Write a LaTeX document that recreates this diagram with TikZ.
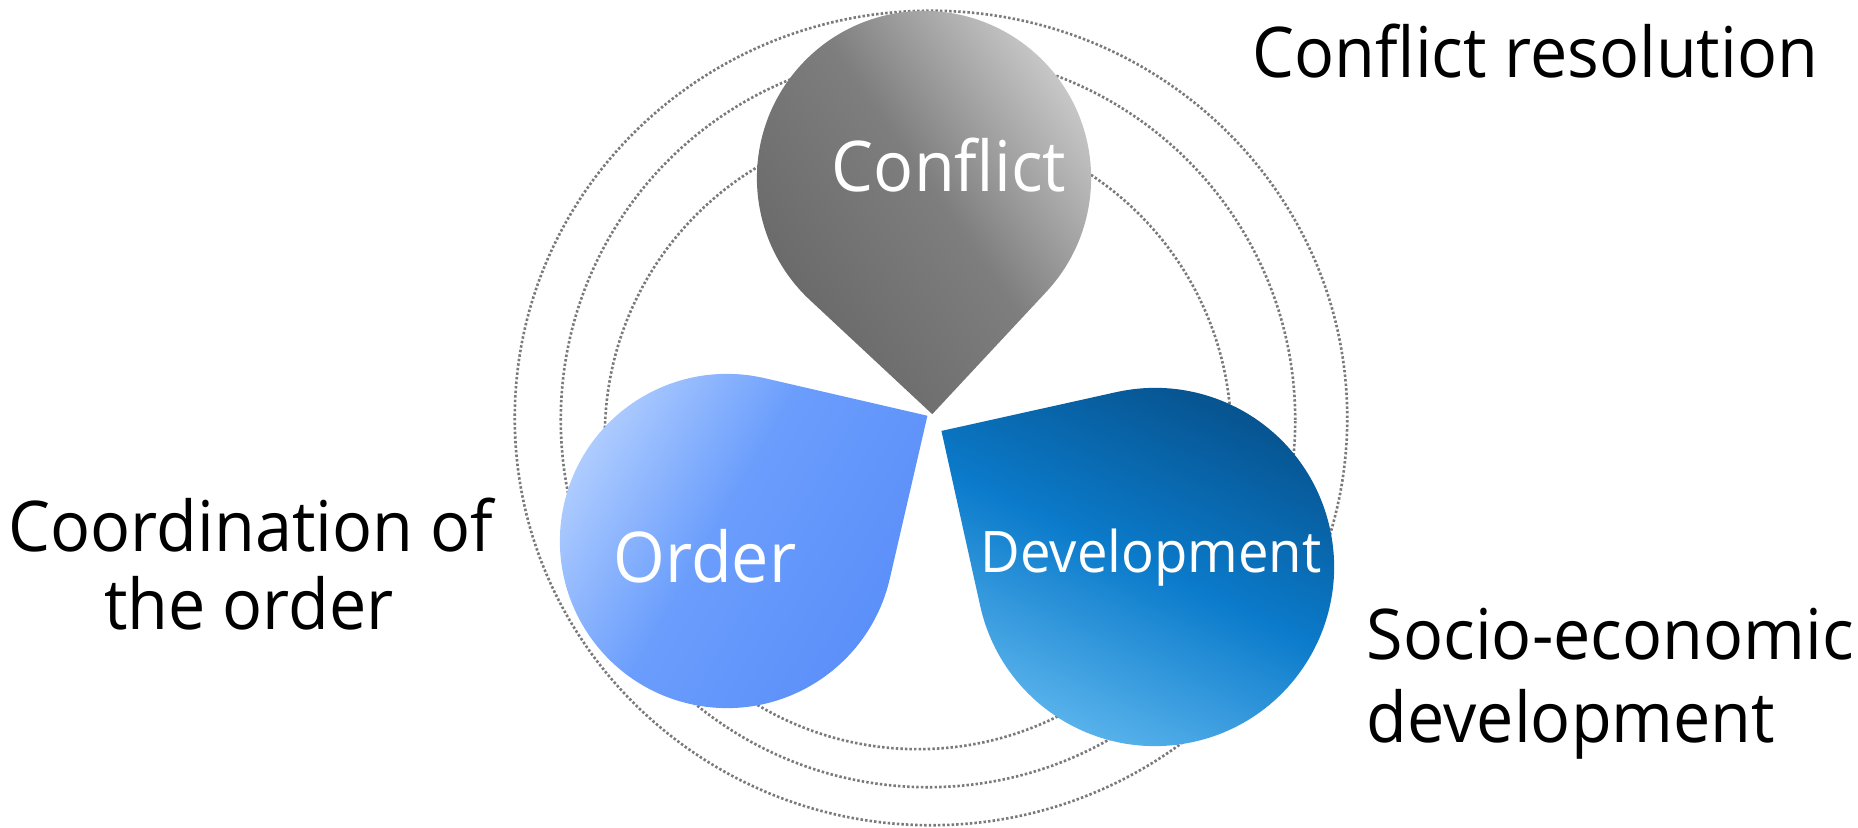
\documentclass[tikz,border=0pt]{standalone}
\usepackage{fontspec}
\setmainfont{Open Sans}[FakeStretch=0.95]
\usetikzlibrary{calc}
\definecolor{cfA}{HTML}{666666}
\definecolor{cfB}{HTML}{7E7E7E}
\definecolor{cfC}{HTML}{CDCDCD}
\definecolor{orA}{HTML}{B4D0FF}
\definecolor{orB}{HTML}{6A9DFC}
\definecolor{orC}{HTML}{5A8EF9}
\definecolor{dvA}{HTML}{62B9EF}
\definecolor{dvB}{HTML}{0B7BCB}
\definecolor{dvC}{HTML}{06508A}
\definecolor{ringgray}{HTML}{7A7A7A}
\pgfdeclarehorizontalshading{shConflict}{100bp}{color(0bp)=(cfA); color(25bp)=(cfA); color(52bp)=(cfB); color(75bp)=(cfC); color(100bp)=(cfC)}
\pgfdeclarehorizontalshading{shOrder}{100bp}{color(0bp)=(orA); color(25bp)=(orA); color(47bp)=(orB); color(75bp)=(orC); color(100bp)=(orC)}
\pgfdeclarehorizontalshading{shDev}{100bp}{color(0bp)=(dvA); color(25bp)=(dvA); color(50bp)=(dvB); color(75bp)=(dvC); color(100bp)=(dvC)}
\tikzset{
  ring/.style={draw=ringgray, line width=0.75pt, dash pattern=on 0.7pt off 0.6pt},
  lbl/.style={inner sep=0pt, font=\fontsize{19.9pt}{24pt}\selectfont, text=black},
  droplbl/.style={inner sep=0pt, font=\fontsize{19.9pt}{24pt}\selectfont, text=white},
  devlbl/.style={inner sep=0pt, font=\fontsize{16.3pt}{20pt}\selectfont, text=white}
}
\begin{document}
\begin{tikzpicture}[x=0.01cm, y=0.01cm]
\useasboundingbox (0,0) rectangle (1858,828);
% dotted rings
\coordinate (rO) at (931,410);
\coordinate (rM) at (928,408);
\coordinate (rI) at (918,392);
\draw[ring] (rO) ellipse [x radius=4.16cm, y radius=4.07cm];
\draw[ring] (rM) circle [radius=3.67cm];
\draw[ring] (rI) circle [radius=3.13cm];
% drop centres
\coordinate (cC) at (924,650);
\coordinate (cO) at (727,287);
\coordinate (cD) at (1155,261);
% Conflict drop
\path[shading=shConflict, shading angle=35]
  ($(cC)+(-88:2.362cm)$) -- ($(cC)+(-43:1.67cm)$)
  arc[start angle=-43, end angle=227, radius=1.67cm] -- cycle;
% Order drop
\path[shading=shOrder, shading angle=-30]
  ($(cO)+(32:2.362cm)$) -- ($(cO)+(77:1.67cm)$)
  arc[start angle=77, end angle=347, radius=1.67cm] -- cycle;
% Development drop
\path[shading=shDev, shading angle=65]
  ($(cD)+(147.5:2.531cm)$) -- ($(cD)+(192.5:1.79cm)$)
  arc[start angle=192.5, end angle=462.5, radius=1.79cm] -- cycle;
% drop labels
\node[droplbl, anchor=base] (lConflict) at (949,636) {Conflict};
\node[droplbl, anchor=base] (lOrder) at (705,245) {Order};
\node[devlbl, anchor=base] (lDev) at (1151,255) {Development};
% outer labels
\node[lbl, anchor=base west] (tConf) at (1252,750) {Conflict resolution};
\node[lbl, anchor=base] (tCoord1) at (251,276) {Coordination of};
\node[lbl, anchor=base] (tCoord2) at (249,198) {the order};
\node[lbl, anchor=base west] (tSocio1) at (1366,168) {Socio-economic};
\node[lbl, anchor=base west] (tSocio2) at (1366,85) {development};
\end{tikzpicture}
\end{document}
